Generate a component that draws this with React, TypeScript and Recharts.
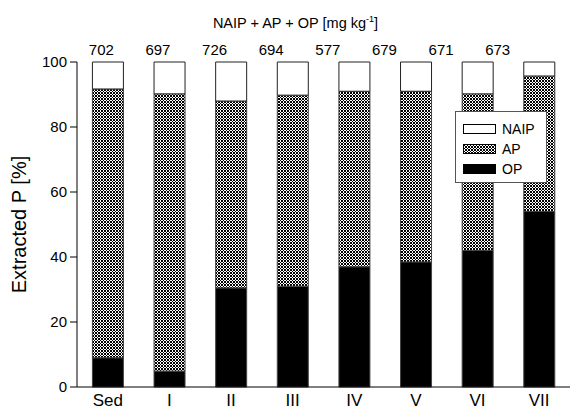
import { BarChart, Bar, XAxis, YAxis, Label } from "recharts";

const categories = ["Sed", "I", "II", "III", "IV", "V", "VI", "VII"];
const totals = [702, 697, 726, 694, 577, 679, 671, 673];
const opValues = [9, 4.9, 30.5, 31, 37, 38.5, 42, 54];
const apValues = [82.7, 85.3, 57.5, 58.8, 54, 52.5, 48.2, 41.7];
const naipValues = [8.3, 9.8, 12, 10.2, 9, 9, 9.8, 4.3];
const yTicks = [0, 20, 40, 60, 80, 100];

const FONT = "Liberation Sans, Arial, sans-serif";

const data = categories.map((name, i) => ({
  name,
  total: totals[i],
  OP: opValues[i],
  AP: apValues[i],
  NAIP: naipValues[i],
}));

const TitleLabel = (props: any) => {
  const vb = props.viewBox || {};
  const cx = vb.x + vb.width / 2 - 4;
  return (
    <text x={cx} y={28} textAnchor="middle" fontSize={14.5} fill="#000" fontFamily={FONT}>
      <tspan>NAIP + AP + OP [mg kg</tspan>
      <tspan fontSize={9} dy={-6}>-1</tspan>
      <tspan dy={6}>]</tspan>
    </text>
  );
};

const legendItems = [
  { key: "NAIP", fill: "#fff" },
  { key: "AP", fill: "url(#apPattern)" },
  { key: "OP", fill: "#000" },
];

export default function App() {
  return (
    <div style={{ position: "absolute", left: 0, top: 0, width: 570, height: 410, background: "#fff" }}>
      <BarChart
        width={570}
        height={410}
        data={data}
        margin={{ top: 62, right: 0, left: 0, bottom: 0 }}
        barCategoryGap="25%"
      >
        <defs>
          <pattern id="apPattern" width="3" height="3" patternUnits="userSpaceOnUse">
            <rect width="3" height="3" fill="#000" />
            <rect x="1" y="0" width="1" height="1" fill="#fff" />
            <rect x="0" y="1" width="1" height="1" fill="#fff" />
            <rect x="2" y="1" width="1" height="1" fill="#fff" />
            <rect x="1" y="2" width="1" height="1" fill="#fff" />
          </pattern>
        </defs>
        <XAxis
          dataKey="name"
          height={23}
          tickLine={false}
          axisLine={{ stroke: "#000" }}
          tick={{ fill: "#000", fontSize: 17, fontFamily: FONT }}
          tickMargin={1}
        />
        <YAxis
          width={77}
          domain={[0, 100]}
          ticks={yTicks}
          tickSize={7}
          axisLine={{ stroke: "#000" }}
          tickLine={{ stroke: "#000" }}
          tick={{ fill: "#000", fontSize: 15, fontFamily: FONT }}
          tickMargin={3}
        >
          <Label
            value="Extracted P [%]"
            angle={-90}
            position="insideLeft"
            offset={19}
            style={{ textAnchor: "middle", fontSize: 20, fontFamily: FONT, fill: "#000" }}
          />
        </YAxis>
        <Bar dataKey="OP" stackId="p" fill="#000" stroke="#444" strokeWidth={1} isAnimationActive={false} />
        <Bar dataKey="AP" stackId="p" fill="url(#apPattern)" stroke="#444" strokeWidth={1} isAnimationActive={false} />
        <Bar dataKey="NAIP" stackId="p" fill="#fff" stroke="#222" strokeWidth={1} isAnimationActive={false} />
      </BarChart>

      {/* totals row sits on its own, narrower category scale */}
      <div style={{ position: "absolute", left: 0, top: 0, pointerEvents: "none" }}>
        <BarChart width={570} height={70} data={data} margin={{ top: 0, right: 44, left: 73, bottom: 0 }}>
          <XAxis
            dataKey="name"
            orientation="top"
            height={62}
            tickLine={false}
            axisLine={false}
            tickFormatter={(_v: any, i: number) => String(totals[i])}
            tick={{ fill: "#000", fontSize: 15, fontFamily: FONT }}
            tickMargin={1}
          >
            <Label content={TitleLabel} />
          </XAxis>
        </BarChart>
      </div>

      <div
        style={{
          position: "absolute",
          left: 455,
          top: 111,
          width: 92,
          height: 72,
          background: "#fff",
          border: "1px solid #555",
          boxSizing: "border-box",
          fontFamily: FONT,
          fontSize: 14,
        }}
      >
        {legendItems.map((item, i) => (
          <div
            key={item.key}
            style={{ position: "absolute", left: 7, top: 9 + i * 20, height: 16, display: "flex", alignItems: "center" }}
          >
            <svg width={33} height={10} style={{ display: "block" }}>
              <rect x={0.5} y={0.5} width={32} height={9} fill={item.fill} stroke="#000" strokeWidth={1} />
            </svg>
            <span style={{ marginLeft: 6, lineHeight: "16px" }}>{item.key}</span>
          </div>
        ))}
      </div>
    </div>
  );
}
